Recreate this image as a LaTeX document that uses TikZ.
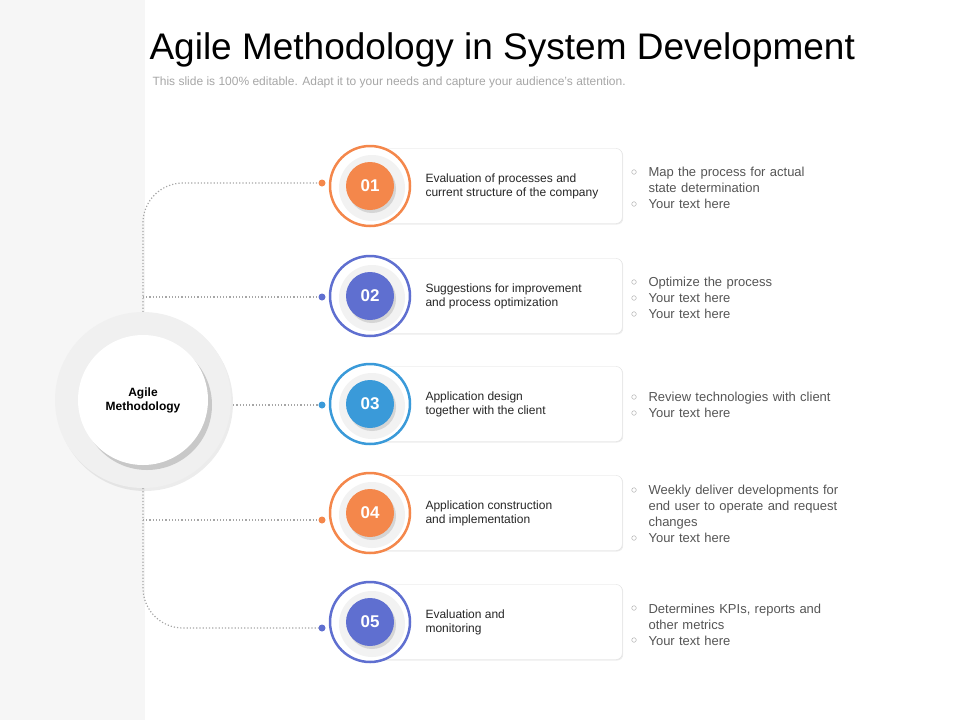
\documentclass[tikz,border=0pt]{standalone}
\usepackage{fontspec}
\setmainfont{Liberation Sans}
\usetikzlibrary{shadows}
\definecolor{cor}{HTML}{F4874B}
\definecolor{cbl}{HTML}{5F6FD0}
\definecolor{ccy}{HTML}{3A9AD9}
\definecolor{ctx}{HTML}{555555}
\begin{document}
\begin{tikzpicture}[x=1pt,y=-1pt,
  conn/.style={draw=gray!70,dotted,line width=1.2pt},
  card/.style={draw=gray!25,fill=white,rounded corners=6pt,minimum width=252pt,minimum height=75pt,anchor=west,drop shadow={shadow xshift=1pt,shadow yshift=-1pt,opacity=0.15}},
  ctext/.style={anchor=west,align=left,font=\fontsize{12}{14}\selectfont,text=black!85},
  btext/.style={anchor=north west,align=left,font=\fontsize{13}{16}\selectfont,text=ctx,text width=200pt},
  ring/.style={circle,draw=#1,line width=2.5pt,fill=white,minimum size=80pt,inner sep=0pt},
  numc/.style={circle,fill=#1,minimum size=48pt,inner sep=0pt,text=white,font=\bfseries\fontsize{17}{17}\selectfont,drop shadow={shadow xshift=2pt,shadow yshift=-3pt,opacity=0.25}}]
\useasboundingbox (0,0) rectangle (960,720);
\fill[gray!7] (0,0) rectangle (145,720);
\node[anchor=west,font=\fontsize{37}{37}\selectfont] (title) at (146,50) {Agile Methodology in System Development};
\node[anchor=west,font=\fontsize{12}{12}\selectfont,text=gray!70] (sub) at (149,82) {This slide is 100\% editable. Adapt it to your needs and capture your audience's attention.};
% connectors
\coordinate (p1) at (322,183);\coordinate (p2) at (322,297);\coordinate (p3) at (322,405);\coordinate (p4) at (322,520);\coordinate (p5) at (322,628);
\draw[conn,rounded corners=40pt] (143,312) -- (143,183) -- (p1);
\draw[conn] (143,297) -- (p2);
\draw[conn] (230,405) -- (p3);
\draw[conn] (143,520) -- (p4);
\draw[conn,rounded corners=40pt] (143,488) -- (143,628) -- (p5);
% center
\node[circle,fill=gray!12,minimum size=176pt,inner sep=0pt,drop shadow={shadow xshift=2pt,shadow yshift=-3pt,opacity=0.15}] (outer) at (143,400) {};
\node[circle,fill=white,minimum size=130pt,inner sep=0pt,align=center,font=\bfseries\fontsize{12}{14}\selectfont,drop shadow={shadow xshift=4pt,shadow yshift=-5pt,opacity=0.35}] (agile) at (143,400) {Agile\\Methodology};
% cards
\foreach \i/\y/\c/\t in {1/186/cor/{Evaluation of processes and\\current structure of the company},
  2/296/cbl/{Suggestions for improvement\\and process optimization},
  3/404/ccy/{Application design\\together with the client},
  4/513/cor/{Application construction\\and implementation},
  5/622/cbl/{Evaluation and\\monitoring}}{
  \node[card] (card\i) at (370,\y) {};
  \fill[\c] (p\i) circle (3.5pt);
  \node[ring=\c] (ring\i) at (370,\y) {};
  \node[circle,fill=gray!10,minimum size=66pt,inner sep=0pt] (in\i) at (372,\y+2) {};
  \node[numc=\c] (num\i) at (370,\y) {0\i};
  \node[ctext] (ct\i) at (422,\y) {\t};
}
\foreach \i/\y/\t in {1/164/{Map the process for actual\\state determination\\Your text here},
  2/274/{Optimize the process\\Your text here\\Your text here},
  3/389/{Review technologies with client\\Your text here},
  4/482/{Weekly deliver developments for\\end user to operate and request\\changes\\Your text here},
  5/601/{Determines KPIs, reports and\\other metrics\\Your text here}}{
  \node[btext] (b\i) at (645,\y) {\t};
}
\foreach \y in {172,204,282,298,314,397,413,490,538,608,640}{
  \draw[gray!60,line width=0.5pt] (634,\y) circle (2.3pt);
}
\end{tikzpicture}
\end{document}
